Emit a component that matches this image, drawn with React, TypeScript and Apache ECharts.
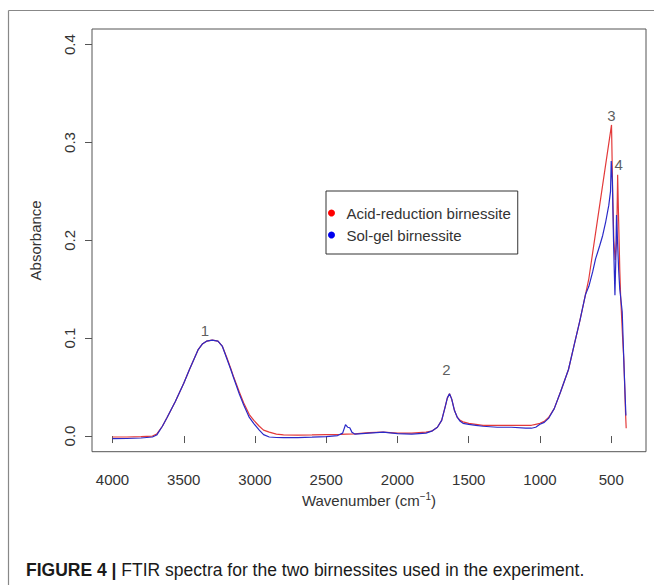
import React, { useEffect, useRef } from "react";
import * as echarts from "echarts";

// ---- data ----
const xTicks = [4000, 3500, 3000, 2500, 2000, 1500, 1000, 500];
const yTicks = [0, 0.1, 0.2, 0.3, 0.4];

const acidWn = [
  4000, 3900, 3800, 3720, 3690, 3650, 3617, 3560, 3500, 3460, 3430, 3400, 3370, 3340, 3300,
  3260, 3230, 3200, 3170, 3149, 3110, 3080, 3040, 3008, 2970, 2940, 2900, 2850, 2800, 2700,
  2600, 2500, 2400, 2360, 2300, 2200, 2100, 2000, 1900, 1800, 1760, 1720, 1690, 1665, 1650,
  1635, 1620, 1600, 1580, 1560, 1540, 1500, 1450, 1400, 1300, 1200, 1100, 1060, 1030, 1000,
  970, 940, 900, 856, 800, 762, 720, 680, 657, 498, 490, 482, 472, 462, 455, 448, 440, 434,
  420, 411, 400, 395,
];
const acidAbs = [
  -0.001, -0.001, -0.0005, 0.0, 0.002, 0.01, 0.019, 0.035, 0.054, 0.068, 0.078, 0.088, 0.094,
  0.097, 0.098, 0.097, 0.092, 0.081, 0.069, 0.06, 0.045, 0.034, 0.022, 0.016, 0.01, 0.006,
  0.004, 0.002, 0.0012, 0.001, 0.0012, 0.0015, 0.0018, 0.002, 0.0022, 0.0035, 0.004, 0.003,
  0.003, 0.004, 0.005, 0.009, 0.016, 0.03, 0.039, 0.0433, 0.038, 0.026, 0.019, 0.016, 0.0145,
  0.013, 0.012, 0.011, 0.011, 0.011, 0.011, 0.011, 0.012, 0.013, 0.015, 0.019, 0.028, 0.045,
  0.068, 0.092, 0.118, 0.145, 0.161, 0.318, 0.25, 0.2, 0.18, 0.2, 0.267, 0.22, 0.17, 0.143,
  0.1, 0.076, 0.025, 0.008,
];

const solWn = [
  4000, 3900, 3800, 3720, 3690, 3650, 3617, 3560, 3500, 3460, 3430, 3400, 3370, 3340, 3300,
  3260, 3230, 3200, 3170, 3149, 3110, 3080, 3040, 3008, 2970, 2940, 2900, 2850, 2800, 2700,
  2600, 2500, 2420, 2385, 2365, 2350, 2335, 2320, 2300, 2200, 2100, 2000, 1900, 1800, 1760,
  1720, 1690, 1665, 1650, 1635, 1620, 1600, 1580, 1560, 1540, 1500, 1450, 1400, 1300, 1200,
  1100, 1060, 1030, 1000, 970, 940, 900, 856, 800, 762, 720, 680, 657, 630, 610, 580, 560,
  540, 517, 505, 500, 492, 484, 474, 468, 463, 456, 448, 440, 423, 410, 397,
];
const solAbs = [
  -0.0027, -0.0025, -0.002, -0.001, 0.001, 0.01, 0.019, 0.035, 0.054, 0.068, 0.078, 0.088,
  0.094, 0.097, 0.098, 0.097, 0.092, 0.08, 0.068, 0.059, 0.043, 0.032, 0.019, 0.0127, 0.006,
  0.0015, -0.001, -0.0015, -0.0016, -0.0016, -0.0012, -0.0005, 0.0005, 0.003, 0.0116, 0.009,
  0.0085, 0.004, 0.002, 0.003, 0.004, 0.0025, 0.002, 0.003, 0.005, 0.009, 0.016, 0.03, 0.039,
  0.0433, 0.038, 0.026, 0.019, 0.015, 0.013, 0.012, 0.011, 0.01, 0.009, 0.009, 0.008, 0.008,
  0.009, 0.012, 0.014, 0.018, 0.028, 0.045, 0.068, 0.092, 0.118, 0.145, 0.153, 0.168, 0.181,
  0.195, 0.205, 0.218, 0.236, 0.25, 0.281, 0.26, 0.2, 0.144, 0.18, 0.226, 0.2, 0.17, 0.15,
  0.127, 0.07, 0.021,
];

const peakLabels = ["1", "2", "3", "4"];
const peakWn = [3352, 1656, 498, 447];
const peakAbs = [0.108, 0.068, 0.328, 0.278];

const seriesNames = ["Acid-reduction birnessite", "Sol-gel birnessite"];
const FONT = "'Liberation Sans', Arial, sans-serif";

export default function App() {
  const ref = useRef<HTMLDivElement>(null);
  useEffect(() => {
    if (!ref.current) return;
    const chart = echarts.init(ref.current, null, { renderer: "svg" });
    const acid = acidWn.map((w, i) => [w, acidAbs[i]]);
    const sol = solWn.map((w, i) => [w, solAbs[i]]);
    const peaks = peakWn.map((w, i) => [w, peakAbs[i], peakLabels[i]]);
    chart.setOption({
      animation: false,
      textStyle: { fontFamily: FONT },
      grid: {
        left: 92,
        right: 8,
        top: 29,
        bottom: 133.3,
        show: true,
        borderColor: "#555",
        borderWidth: 1,
      },
      legend: {
        left: 326,
        top: 191,
        orient: "vertical",
        padding: [14, 7, 11, 2],
        itemGap: 6,
        itemWidth: 20,
        itemHeight: 7,
        icon: "circle",
        borderColor: "#333",
        borderWidth: 1,
        backgroundColor: "#fff",
        textStyle: { fontSize: 15, color: "#333", lineHeight: 16, fontFamily: FONT },
        data: [
          { name: seriesNames[0], itemStyle: { color: "#ff0000" } },
          { name: seriesNames[1], itemStyle: { color: "#0000ee" } },
        ],
      },
      xAxis: {
        type: "value",
        inverse: true,
        min: 256,
        max: 4144,
        axisLine: { show: false },
        axisTick: {
          show: true,
          customValues: xTicks,
          length: 7,
          lineStyle: { color: "#555" },
        },
        axisLabel: {
          customValues: xTicks,
          margin: 20,
          fontSize: 15,
          color: "#333",
          fontFamily: FONT,
          formatter: (v: number) => String(v),
        },
        splitLine: { show: false },
        name: "Wavenumber (cm{sup|−1})",
        nameLocation: "middle",
        nameGap: 37,
        nameTextStyle: {
          fontSize: 15,
          color: "#333",
          fontFamily: FONT,
          lineHeight: 18,
          rich: {
            sup: { fontSize: 10, color: "#333", verticalAlign: "top", lineHeight: 10, fontFamily: FONT },
          },
        },
      },
      yAxis: {
        type: "value",
        min: -0.016,
        max: 0.416,
        axisLine: { show: false },
        axisTick: {
          show: true,
          customValues: yTicks,
          length: 7,
          lineStyle: { color: "#555" },
        },
        axisLabel: {
          customValues: yTicks,
          rotate: 90,
          margin: 15,
          fontSize: 15,
          color: "#333",
          fontFamily: FONT,
          formatter: (v: number) => v.toFixed(1),
        },
        splitLine: { show: false },
        name: "Absorbance",
        nameLocation: "middle",
        nameGap: 49,
        nameTextStyle: { fontSize: 15, color: "#333", fontFamily: FONT },
      },
      series: [
        {
          name: seriesNames[0],
          type: "line",
          data: acid,
          showSymbol: false,
          symbol: "none",
          lineStyle: { color: "#e33a3a", width: 1.2 },
          itemStyle: { color: "#ff0000" },
          z: 2,
        },
        {
          name: seriesNames[1],
          type: "line",
          data: sol,
          showSymbol: false,
          symbol: "none",
          lineStyle: { color: "#2a2ac8", width: 1.2 },
          itemStyle: { color: "#0000ee" },
          z: 3,
        },
        {
          name: "labels",
          type: "scatter",
          data: peaks,
          symbolSize: 1,
          itemStyle: { color: "transparent" },
          label: {
            show: true,
            position: "inside",
            formatter: (p: any) => p.value[2],
            fontSize: 15,
            color: "#333",
            fontFamily: FONT,
          },
          silent: true,
          z: 5,
        },
      ],
      graphic: [
        {
          type: "line",
          shape: { x1: 8.5, y1: 10.5, x2: 654, y2: 10.5 },
          style: { stroke: "#888", lineWidth: 1.2 },
        },
        {
          type: "line",
          shape: { x1: 8.5, y1: 10.5, x2: 8.5, y2: 585 },
          style: { stroke: "#888", lineWidth: 1.2 },
        },
        {
          type: "text",
          left: 26,
          top: 561,
          style: {
            text: "{b|FIGURE 4 |} FTIR spectra for the two birnessites used in the experiment.",
            fontSize: 17.5,
            fill: "#1a1a1a",
            fontFamily: FONT,
            rich: {
              b: { fontSize: 17.5, fontWeight: "bold", fill: "#1a1a1a", fontFamily: FONT },
            },
          },
        },
      ],
    });
    return () => chart.dispose();
  }, []);
  return (
    <div
      ref={ref}
      style={{ position: "absolute", left: 0, top: 0, width: 654, height: 585 }}
    />
  );
}
